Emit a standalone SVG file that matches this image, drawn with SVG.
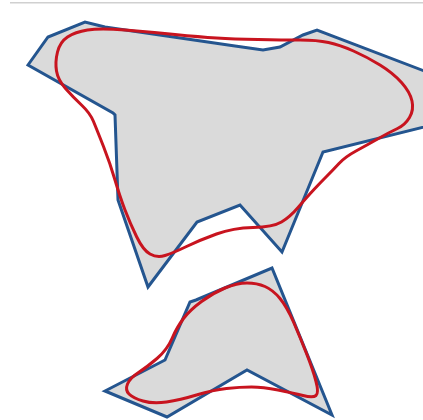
<svg xmlns="http://www.w3.org/2000/svg" width="423" height="420" viewBox="0 0 423 420">
<style>
.fill{fill:#dadada;stroke:none}
.blue{fill:none;stroke:#24558f;stroke-width:3;stroke-linejoin:miter}
.red{fill:none;stroke:#c8141f;stroke-width:3;stroke-linejoin:round}
</style>
<rect width="423" height="420" fill="#ffffff"/>
<rect x="10" y="2" width="413" height="1.5" fill="#d0d0d0"/>
<g id="big">
<path class="fill" d="M28,65 L48,37 L85,22 L105,27 L235,46 L263,50 L280,47 L303,35 L317,30 L440,77 L440,123 L323,152 L282,252 L240,205 L197,222 L148,287 L118,200 L115,115 L113,113 Z"/>
<path class="blue" d="M28,65 L48,37 L85,22 L105,27 L235,46 L263,50 L280,47 L303,35 L317,30 L440,77 L440,123 L323,152 L282,252 L240,205 L197,222 L148,287 L118,200 L115,115 L113,113 Z"/>
<path class="red" d="M56.5,71 Q55,62 57.5,52 Q60,42 67.5,37 Q75,32 87.5,30 Q100,28 125,30 Q150,32 175,34.5 Q200,37 216.5,38 Q233,39 258,39.5 Q283,40 300,40 Q317,40 328.5,42.5 Q340,45 353.5,51 Q367,57 380,65 Q393,73 401.5,82.5 Q410,92 412,101 Q414,110 409.5,117.5 Q405,125 397.5,128.5 Q390,132 378.5,138.5 Q367,145 356,151 Q345,157 339,163.5 Q333,170 326.5,176.5 Q320,183 313.5,190 Q307,197 298.5,207 Q290,217 281.5,222 Q273,227 253,227.5 Q233,228 216.5,234 Q200,240 186.5,246.5 Q173,253 165,255.5 Q157,258 150,254 Q143,250 136.5,236.5 Q130,223 125,210 Q120,197 115,180 Q110,163 103.5,146.5 Q97,130 93.5,121.5 Q90,113 81.5,105 Q73,97 65.5,88.5 Q58,80 56.5,71 Z"/>
</g>
<g id="small">
<path class="fill" d="M105,391 L165,360 L190,302 L196,300 L272,268 L332,415 L247,370 L167,417 Z"/>
<path class="blue" d="M105,391 L165,360 L190,302 L196,300 L272,268 L332,415 L247,370 L167,417 Z"/>
<path class="red" d="M129,394 Q125,390 127.5,384 Q130,378 138.5,372.5 Q147,367 157,358.5 Q167,350 172,338.5 Q177,327 183.5,318.5 Q190,310 201.5,301.5 Q213,293 225,288 Q237,283 247,283 Q257,283 265,286.5 Q273,290 280,298.5 Q287,307 293.5,322 Q300,337 306.5,353.5 Q313,370 316,381.5 Q319,393 316,395.5 Q313,398 303,395.5 Q293,393 278,390 Q263,387 251.5,387 Q240,387 226.5,388.5 Q213,390 196.5,395 Q180,400 166.5,402 Q153,404 143,401 Q133,398 129,394 Z"/>
</g>
</svg>
